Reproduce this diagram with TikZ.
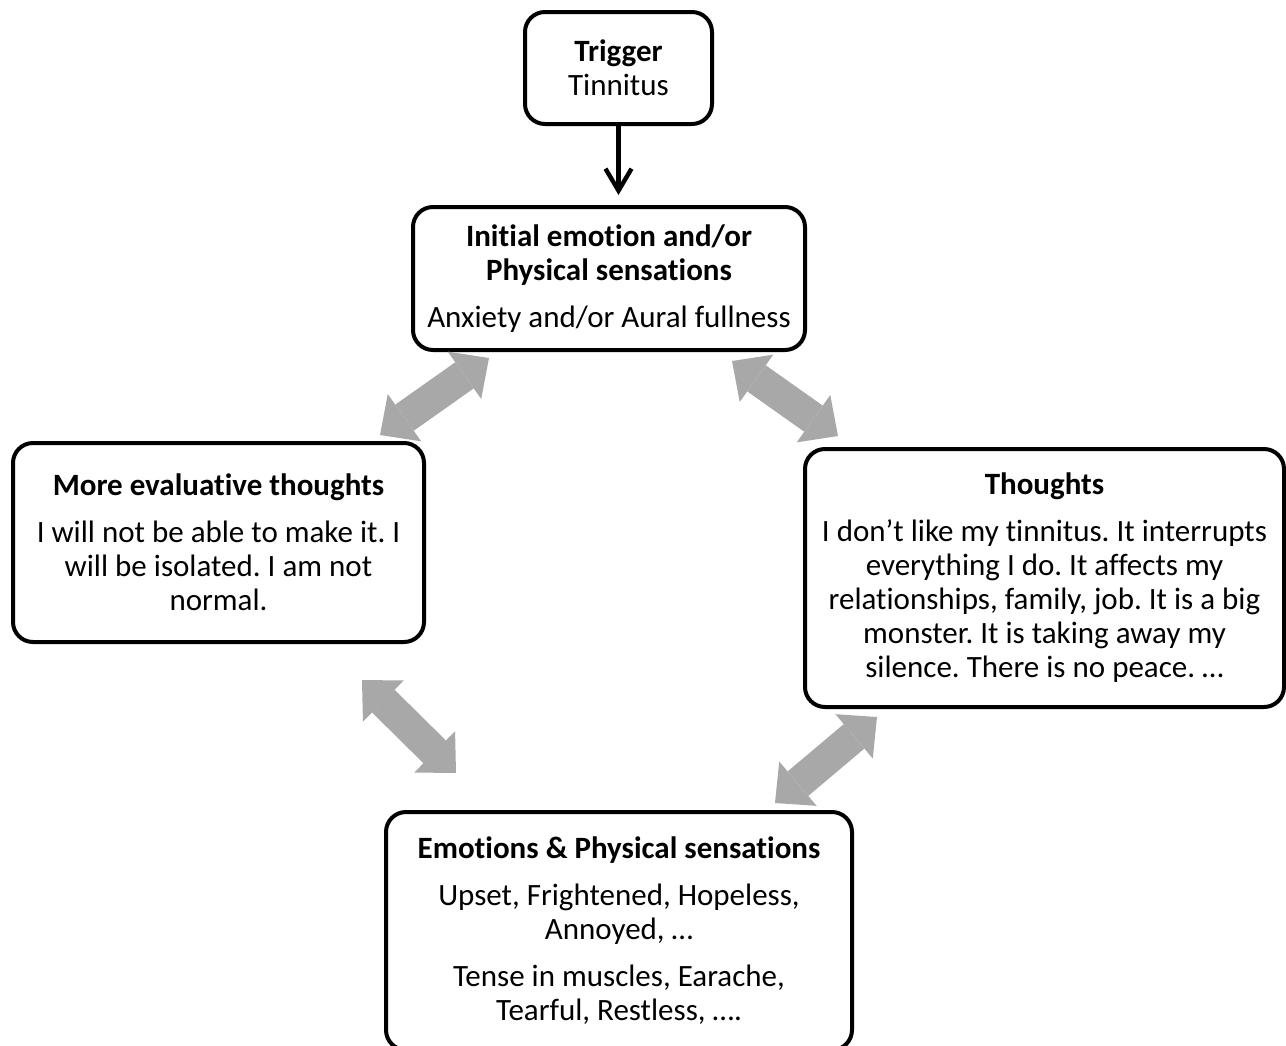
\documentclass[tikz,border=0pt]{standalone}
\usepackage{fontspec}
\setmainfont{Carlito}[Ligatures=NoCommon]
\usetikzlibrary{arrows.meta}
\definecolor{arrgray}{RGB}{168,168,168}
\frenchspacing
\begin{document}
\begin{tikzpicture}[x=0.5pt,y=-0.5pt,
  box/.style={draw=black, line width=2pt, rounded corners=10pt, align=center,
    inner sep=0pt, font=\fontsize{15.5}{17}\selectfont\frenchspacing},
  garrow/.style={draw=arrgray, line width=16pt,
    {Triangle[length=15pt,width=29pt,line width=0pt]}-{Triangle[length=15pt,width=29pt,line width=0pt]}},
  barrow/.style={draw=black, line width=2.2pt, -{Straight Barb[length=11pt,width=13pt]}}]
\useasboundingbox (0,0) rectangle (1286,1045);
\clip (0,0) rectangle (1286,1045);
\node[box, minimum width=93.5pt, minimum height=56pt] (trig) at (618.5,68)
  {\textbf{Trigger}\\Tinnitus};
\node[box, minimum width=196pt, minimum height=71.5pt] (init) at (609,278.5)
  {\textbf{Initial emotion and/or}\\\textbf{Physical sensations}\\[6.5pt]Anxiety and/or Aural fullness};
\node[box, minimum width=205.5pt, minimum height=99.5pt] (eval) at (218.5,542.5)
  {\textbf{More evaluative thoughts}\\[6.5pt]I will not be able to make it. I\\will be isolated. I am not\\normal.};
\node[box, minimum width=239.5pt, minimum height=129pt] (thou) at (1044.5,578)
  {\textbf{Thoughts}\\[6.5pt]I don’t like my tinnitus. It interrupts\\everything I do. It affects my\\relationships, family, job. It is a big\\monster. It is taking away my\\silence. There is no peace. …};
\node[box, minimum width=233pt, minimum height=119pt] (emo) at (619,931)
  {\textbf{Emotions \& Physical sensations}\\[6.5pt]Upset, Frightened, Hopeless,\\Annoyed, …\\[6.5pt]Tense in muscles, Earache,\\Tearful, Restless, ….};
\draw[barrow, shorten >=5pt] (trig.south) -- (trig.south |- init.north);
\coordinate (a1s) at (380,435); \coordinate (a1e) at (489,358);
\coordinate (a2s) at (732,361); \coordinate (a2e) at (838,436);
\coordinate (a3s) at (362,680); \coordinate (a3e) at (456,773);
\coordinate (a4s) at (877,717); \coordinate (a4e) at (775,803);
\draw[garrow] (a1s) -- (a1e);
\draw[garrow] (a2s) -- (a2e);
\draw[garrow] (a3s) -- (a3e);
\draw[garrow] (a4s) -- (a4e);
\end{tikzpicture}
\end{document}
